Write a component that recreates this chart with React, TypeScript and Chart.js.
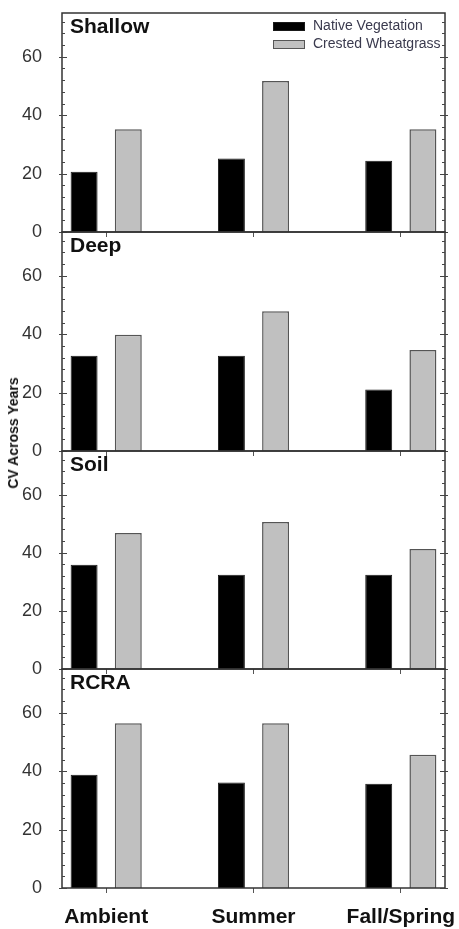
import React, { useEffect, useRef } from 'react';
import { Chart, registerables } from 'chart.js';

Chart.register(...registerables);

// ---- data ----
const categories = ['Ambient', 'Summer', 'Fall/Spring'];
const seriesNames = ['Native Vegetation', 'Crested Wheatgrass'];
const panelTitles = ['Shallow', 'Deep', 'Soil', 'RCRA'];

const shallowNative = [20.6, 25.2, 24.4];
const shallowCrested = [35.2, 51.7, 35.2];
const deepNative = [32.6, 32.6, 21.1];
const deepCrested = [39.8, 47.9, 34.6];
const soilNative = [35.9, 32.4, 32.4];
const soilCrested = [46.8, 50.6, 41.3];
const rcraNative = [38.8, 36.1, 35.7];
const rcraCrested = [56.4, 56.4, 45.6];

const yTicks = [0, 20, 40, 60];
const yMax = 75;
const yMinorStep = 4;
const yAxisTitle = 'CV Across Years';

const FONT = '"Liberation Sans", Arial, Helvetica, sans-serif';

const panels = [
  { title: panelTitles[0], native: shallowNative, crested: shallowCrested, areaTop: 13, areaBottom: 232, legend: true, labels: false },
  { title: panelTitles[1], native: deepNative, crested: deepCrested, areaTop: 232, areaBottom: 451, legend: false, labels: false },
  { title: panelTitles[2], native: soilNative, crested: soilCrested, areaTop: 451, areaBottom: 669, legend: false, labels: false },
  { title: panelTitles[3], native: rcraNative, crested: rcraCrested, areaTop: 669, areaBottom: 888, legend: false, labels: true },
];

const PAD_TOP = 10;

function makeFramePlugin(title: string, showLegend: boolean) {
  return {
    id: 'frameDecor',
    afterDraw(chart: any) {
      const { ctx, chartArea: a, scales } = chart;
      const y = scales.y;
      ctx.save();
      // frame
      ctx.strokeStyle = '#333';
      ctx.lineWidth = 1.5;
      ctx.strokeRect(a.left, a.top, a.right - a.left, a.bottom - a.top);
      // y ticks on both sides
      ctx.lineWidth = 1;
      ctx.strokeStyle = '#444';
      for (let v = 0; v <= yMax; v += yMinorStep) {
        const py = Math.round(y.getPixelForValue(v)) + 0.5;
        const major = v % 20 === 0;
        const len = major ? 5 : 3;
        ctx.beginPath();
        ctx.moveTo(a.left - (major ? 3 : 0), py);
        ctx.lineTo(a.left + len, py);
        ctx.moveTo(a.right + (major ? 3 : 0), py);
        ctx.lineTo(a.right - len, py);
        ctx.stroke();
      }
      // panel title
      ctx.fillStyle = '#111';
      ctx.font = `bold 21px ${FONT}`;
      ctx.textAlign = 'left';
      ctx.textBaseline = 'middle';
      ctx.fillText(title, a.left + 8, a.top + 14);
      // legend
      if (showLegend) {
        const ds = chart.data.datasets;
        const bx = a.right - 172;
        const tx = a.right - 132;
        const rows = [a.top + 9, a.top + 27];
        ctx.font = `14px ${FONT}`;
        rows.forEach((ry: number, i: number) => {
          ctx.fillStyle = ds[i].backgroundColor;
          ctx.fillRect(bx, ry, 32, 9);
          ctx.strokeStyle = ds[i].borderColor;
          ctx.lineWidth = 1;
          ctx.strokeRect(bx + 0.5, ry + 0.5, 31, 8);
          ctx.fillStyle = '#3a3a4e';
          ctx.fillText(ds[i].label, tx, ry + 4.5);
        });
      }
      ctx.restore();
    },
  };
}

function Panel(props: any) {
  const { title, native, crested, areaTop, areaBottom, legend, labels } = props;
  const ref = useRef<HTMLCanvasElement>(null);
  const bottomH = labels ? 41 : 8;
  const height = PAD_TOP + (areaBottom - areaTop) + bottomH;

  useEffect(() => {
    const zeroPad = (s: any) => {
      s.paddingLeft = 0;
      s.paddingRight = 0;
      s.paddingTop = 0;
      s.paddingBottom = 0;
    };
    const chart = new Chart(ref.current as HTMLCanvasElement, {
      type: 'bar',
      data: {
        datasets: [
          {
            label: seriesNames[0],
            data: native.map((v: number, i: number) => ({ x: i, y: v })),
            backgroundColor: '#000000',
            borderColor: '#1a1a1a',
            borderWidth: 1,
          },
          {
            label: seriesNames[1],
            data: crested.map((v: number, i: number) => ({ x: i, y: v })),
            backgroundColor: '#c0c0c0',
            borderColor: '#555555',
            borderWidth: 1.5,
          },
        ],
      } as any,
      options: {
        animation: false,
        responsive: false,
        events: [],
        layout: { padding: { top: PAD_TOP, right: 14, left: 0, bottom: 0 } },
        datasets: { bar: { categoryPercentage: 0.6, barPercentage: 0.61 } } as any,
        scales: {
          x: {
            type: 'linear',
            min: -0.3,
            max: 2.3,
            offset: false,
            afterBuildTicks: (s: any) => {
              s.ticks = categories.map((_, i) => ({ value: i }));
            },
            afterFit: (s: any) => {
              s.height = bottomH;
              zeroPad(s);
            },
            border: { display: false },
            grid: { offset: false, drawOnChartArea: false, drawTicks: true, tickLength: 5, color: '#555', lineWidth: 1 },
            ticks: {
              display: labels,
              autoSkip: false,
              maxRotation: 0,
              padding: 12,
              color: '#111',
              font: { family: FONT, size: 21, weight: 'bold' },
              callback: (v: any) => categories[Number(v)] ?? '',
            },
          },
          y: {
            min: 0,
            max: yMax,
            afterBuildTicks: (s: any) => {
              s.ticks = yTicks.map((v) => ({ value: v }));
            },
            afterFit: (s: any) => {
              s.width = 62;
              zeroPad(s);
            },
            border: { display: false },
            grid: { display: false },
            ticks: { padding: 12, color: '#333', font: { family: FONT, size: 18 } },
          },
        } as any,
        plugins: { legend: { display: false }, tooltip: { enabled: false } },
      },
      plugins: [makeFramePlugin(title, legend)],
    });
    return () => chart.destroy();
  }, []);

  return (
    <canvas
      ref={ref}
      width={459}
      height={height}
      style={{ position: 'absolute', left: 0, top: areaTop - PAD_TOP, width: 459, height, display: 'block' }}
    />
  );
}

export default function App() {
  return (
    <div style={{ position: 'absolute', left: 0, top: 0, width: 459, height: 929, background: '#fff', overflow: 'hidden' }}>
      {panels.map((p, i) => (
        <Panel key={i} {...p} />
      ))}
      <div
        style={{
          position: 'absolute',
          left: 13,
          top: 433,
          transform: 'translate(-50%, -50%) rotate(-90deg)',
          whiteSpace: 'nowrap',
          fontFamily: FONT,
          fontWeight: 'bold',
          fontSize: 14,
          color: '#111',
          lineHeight: 1,
        }}
      >
        {yAxisTitle}
      </div>
    </div>
  );
}
